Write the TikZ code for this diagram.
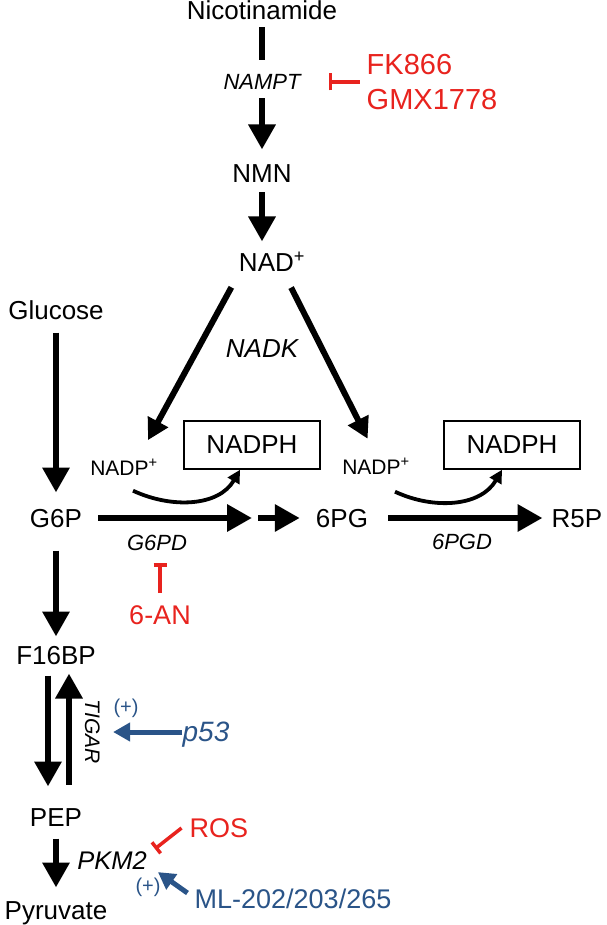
\documentclass[tikz,border=0pt]{standalone}
\usepackage{fontspec}
\setmainfont{Liberation Sans}
\usetikzlibrary{arrows.meta,positioning}
\definecolor{inhibred}{RGB}{232,35,30}
\definecolor{actblue}{RGB}{42,84,136}

\begin{document}
\begin{tikzpicture}[
			on grid,
			metab/.style={inner sep=0pt, text height=18.6pt, text depth=0pt, font=\fontsize{26pt}{31pt}\selectfont},
			enzyme/.style={inner sep=0pt, text height=15.8pt, text depth=0pt, font=\fontsize{22pt}{26pt}\selectfont\itshape},
			cofactor/.style={inner sep=0pt, text height=15pt, text depth=0pt, font=\fontsize{21pt}{25pt}\selectfont},
			product/.style={draw, line width=1.5pt, minimum width=136pt, minimum height=48pt, inner sep=0pt, font=\fontsize{26pt}{31pt}\selectfont},
			drug/.style={inner sep=0pt, text=inhibred, text height=19.3pt, text depth=0pt, font=\fontsize{27pt}{32pt}\selectfont},
			druglist/.style={inner sep=0pt, text=inhibred, align=left, font=\fontsize{29pt}{35pt}\selectfont},
			activator/.style={inner sep=0pt, text=actblue, text height=19.3pt, text depth=0pt, font=\fontsize{27pt}{32pt}\selectfont},
			plus/.style={inner sep=0pt, text=actblue, font=\fontsize{20pt}{24pt}\selectfont},
			arr/.style={draw, line width=6.5pt, -{Triangle[length=25pt,width=26pt]}},
			diag/.style={draw, line width=6pt, -{Triangle[length=21pt,width=22pt]}},
			curvearr/.style={draw, line width=3.8pt, -{Triangle[length=13pt,width=13pt]}},
			inhib/.style={draw=inhibred, line width=3.5pt, -{Bar[width=17pt]}},
			actarr/.style={draw=actblue, line width=5pt, -{Triangle[length=17pt,width=18pt]}}
		]
		\useasboundingbox (0pt,0pt) rectangle (606pt,-925pt);

		% NAD+ synthesis
		\node[metab] (nicotinamide) at (262pt,-10pt) {Nicotinamide};
		\node[enzyme, below=72pt of nicotinamide] (nampt) {NAMPT};
		\node[metab, below=91pt of nampt] (nmn) {NMN};
		\node[metab, below right=89pt and 10pt of nmn] (nad) {NAD\textsuperscript{+}};
		\node[druglist, right=170pt of nampt] (fk) {FK866\\GMX1778};
		\node[enzyme, font=\fontsize{26pt}{31pt}\selectfont\itshape, below left=88pt and 10pt of nad] (nadk) {NADK};

		% Glycolysis and pentose phosphate pathway
		\node[metab, below left=300pt and 206pt of nicotinamide] (glucose) {Glucose};
		\node[metab, below=208pt of glucose] (g6p) {G6P};
		\node[cofactor, above right=50pt and 68pt of g6p] (nadpL) {NADP\textsuperscript{+}};
		\node[product, above right=23pt and 128pt of nadpL] (nadphL) {NADPH};
		\node[metab, right=286pt of g6p] (pg6) {6PG};
		\node[cofactor, above right=51pt and 34pt of pg6] (nadpR) {NADP\textsuperscript{+}};
		\node[product, above right=22pt and 136pt of nadpR] (nadphR) {NADPH};
		\node[metab, right=235pt of pg6] (r5p) {R5P};
		\coordinate[right=199pt of g6p] (g6pmid);
		\node[enzyme, below right=25pt and 101pt of g6p] (g6pd) {G6PD};
		\node[enzyme, below right=24pt and 120pt of pg6] (pgd) {6PGD};
		\node[drug, below right=72pt and 3pt of g6pd] (an) {6-AN};

		\node[metab, below=137pt of g6p] (f16bp) {F16BP};
		\node[enzyme, rotate=-90, font=\fontsize{21pt}{25pt}\selectfont\itshape, below right=77pt and 37pt of f16bp] (tigar) {TIGAR};
		\node[activator, font=\fontsize{28pt}{33pt}\selectfont\itshape, right=113pt of tigar] (p53) {p53};
		\node[plus, above left=24pt and 80pt of p53] (plus1) {(+)};
		\node[metab, below=162pt of f16bp] (pep) {PEP};
		\node[metab, below=93pt of pep] (pyruvate) {Pyruvate};
		\node[enzyme, font=\fontsize{25.5pt}{30pt}\selectfont\itshape, below right=45pt and 56pt of pep] (pkm2) {PKM2};
		\node[drug, above right=34pt and 107pt of pkm2] (ros) {ROS};
		\node[plus, below right=25pt and 36pt of pkm2] (plus2) {(+)};
		\node[activator, below right=37pt and 181pt of pkm2] (ml) {ML-202/203/265};

		% Lines
		\draw[line width=6.5pt, shorten <=8pt, shorten >=14pt] (nicotinamide) -- (nampt);
		\draw[arr, shorten <=8pt, shorten >=14pt] (nampt) -- (nmn);
		\draw[arr, shorten <=10pt, shorten >=11pt] (nmn) -- (nmn |- nad.north);
		\draw[inhib, shorten <=7pt, shorten >=28pt] (fk) -- (nampt);
		\draw[diag, shorten <=18pt, shorten >=23pt] ([xshift=-32pt]nad.south) -- ([xshift=13pt]nadpL.north);
		\draw[diag, shorten <=18pt, shorten >=23pt] ([xshift=11pt]nad.south) -- ([xshift=2pt]nadpR.north);

		\draw[arr, shorten <=13pt, shorten >=16pt] (glucose) -- (g6p);
		\draw[arr, shorten <=16pt, shorten >=3pt] (g6p) -- (g6pmid);
		\draw[arr, shorten <=3pt, shorten >=16pt] (g6pmid) -- (pg6);
		\draw[arr, shorten <=20pt, shorten >=9pt] (pg6) -- (r5p);
		\draw[curvearr] ([shift={(9pt,-15pt)}]nadpL.south) to[out=-25, in=-120] ([xshift=-12pt]nadphL.south);
		\draw[curvearr] ([shift={(19pt,-17pt)}]nadpR.south) to[out=-25, in=-120] ([xshift=-10pt]nadphR.south);
		\draw[inhib, -{Bar[width=13pt]}, shorten <=12pt, shorten >=12pt] (an.north) -- (an.north |- g6pd.south);

		\draw[arr, shorten <=23pt, shorten >=9pt] (g6p) -- (f16bp);
		\draw[arr, shorten <=11pt, shorten >=21pt] ([xshift=-8pt]f16bp.south) -- ([xshift=-8pt]pep.north);
		\draw[arr, shorten <=23pt, shorten >=9pt] ([xshift=13pt]pep.north) -- ([xshift=13pt]f16bp.south);
		\draw[actarr, shorten >=12pt] (p53) -- (tigar);
		\draw[arr, shorten <=12pt, shorten >=13pt] (pep) -- (pyruvate);
		\draw[inhib, -{Bar[width=14pt]}] ([xshift=-8pt]ros.west) -- ([shift={(8pt,5pt)}]pkm2.north east);
		\draw[actarr] ([shift={(-7pt,6pt)}]ml.west) -- ([shift={(11pt,-2pt)}]pkm2.south east);
	\end{tikzpicture}
\end{document}
